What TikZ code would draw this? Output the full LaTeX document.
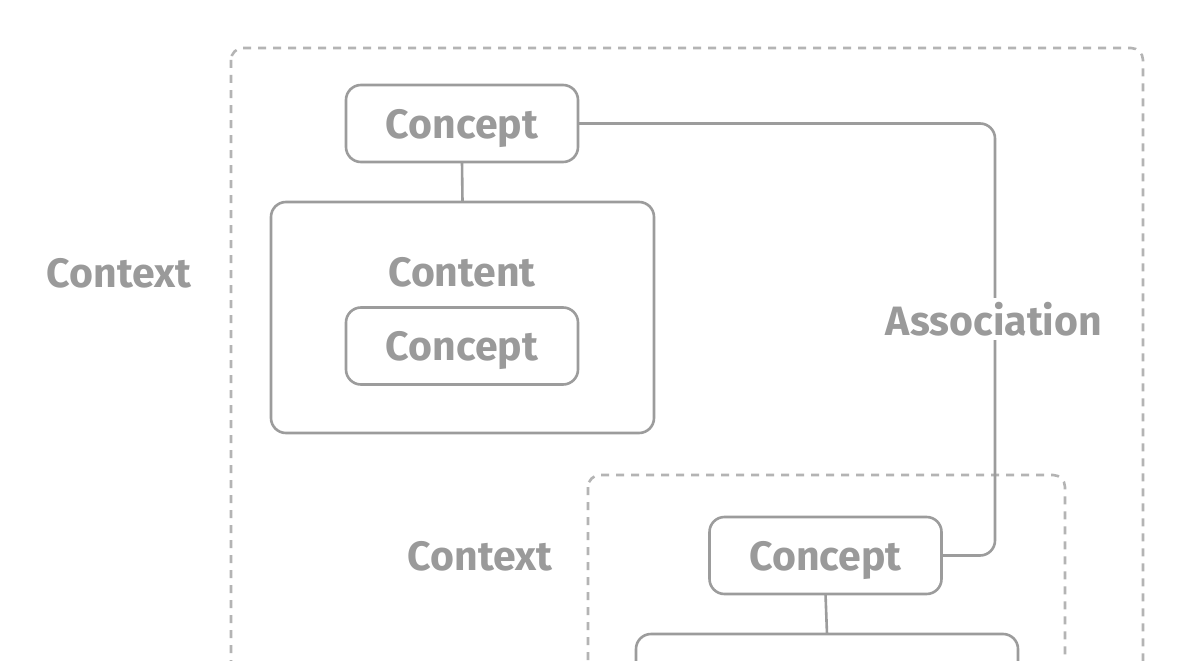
\documentclass[tikz,border=0pt]{standalone}
\usepackage{fontspec}
\setmainfont{Fira Sans}
\definecolor{linegray}{HTML}{9C9C9C}
\definecolor{dashgray}{HTML}{B4B4B4}
\definecolor{textgray}{HTML}{9A9A9A}
\tikzset{
  conceptbox/.style={draw=linegray, line width=2.6pt, rounded corners=15pt, minimum width=232pt, minimum height=77pt, inner sep=0pt, outer sep=0pt, font=\fontsize{41}{44}\selectfont\bfseries, text=textgray, fill=white, text depth=0pt},
  contentbox/.style={draw=linegray, line width=2.6pt, rounded corners=15pt, inner sep=0pt, outer sep=0pt},
  ctxbox/.style={draw=dashgray, line width=2.6pt, dash pattern=on 8pt off 7pt, rounded corners=12pt},
  lbl/.style={font=\fontsize{41}{44}\selectfont\bfseries, text=textgray, inner sep=2pt},
  link/.style={draw=linegray, line width=2.6pt},
}
\begin{document}
\begin{tikzpicture}[x=1pt,y=-1pt]
\useasboundingbox[fill=white] (0,0) rectangle (1197,661);
\clip (0,0) rectangle (1197,661);
% outer context
\draw[ctxbox] (231,48) rectangle (1143,720);
\node[lbl] (ctx1) at (119,273) {Context};
% top concept
\node[conceptbox] (c1) at (462,123.5) {Concept};
% content box
\node[contentbox, minimum width=383pt, minimum height=231pt] (cont) at (462.5,317.5) {};
\node[lbl] (contl) at (462,272) {Content};
\node[conceptbox] (c2) at (462,346) {Concept};
\draw[link] (c1.south) -- (cont.north);
% inner context
\draw[ctxbox] (588,475) rectangle (1065,720);
\node[lbl] (ctx2) at (480,556) {Context};
\node[conceptbox] (c3) at (825.5,555.5) {Concept};
\node[contentbox, minimum width=382pt, minimum height=160pt, anchor=north] (cont2) at (827,634) {};
\draw[link] (c3.south) -- (cont2.north);
% association
\coordinate (bend) at (995,123.5);
\draw[link, rounded corners=15pt] (c1.east) -- (bend) |- (c3.east);
\node[lbl, fill=white, inner sep=4pt] (assoc) at (994,319) {Association};
\end{tikzpicture}
\end{document}
